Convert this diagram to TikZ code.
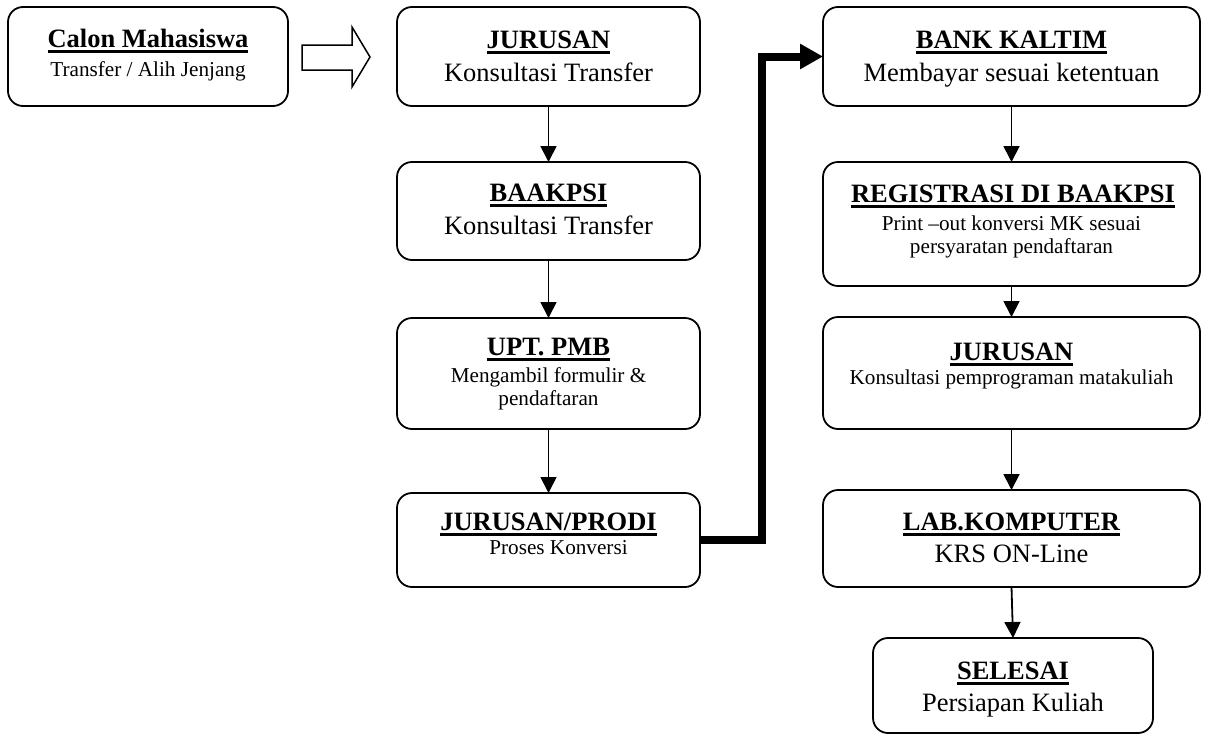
\documentclass[tikz,border=0pt]{standalone}
\usepackage{fontspec}
\setmainfont{Liberation Serif}
\usetikzlibrary{arrows.meta}

\newsavebox\titlebox
% bold heading with a rule drawn just under the baseline
\newcommand\heading[1]{\sbox\titlebox{\bfseries#1}\rlap{\rule[-5.6pt]{\wd\titlebox}{2.3pt}}\usebox\titlebox}
\newcommand\bigtext{\fontsize{26.5pt}{31pt}\selectfont}
\newcommand\smalltext{\fontsize{21.2pt}{24.5pt}\selectfont}

\begin{document}
\begin{tikzpicture}[x=1pt,y=-1pt,
  stepbox/.style={draw, line width=1.8pt, rounded corners=15pt, inner sep=0pt, outer sep=0pt},
  title/.style={anchor=base, inner sep=0pt, font=\bigtext},
  bigline/.style={anchor=base, inner sep=0pt, font=\bigtext},
  smallline/.style={anchor=base, inner sep=0pt, font=\smalltext},
  flow/.style={draw, line width=1.8pt, -{Triangle[length=16pt,width=16pt]}},
  bus/.style={draw, line width=8pt, line join=miter, -{Triangle[length=23pt,width=24pt]}}]

\useasboundingbox (0,0) rectangle (1207,734);

% ---- starting box ----
\node[stepbox, minimum width=280pt, minimum height=99pt] (calon) at (148,56.5) {};
\node[title] (calonT) at (148,47) {\heading{Calon Mahasiswa}};
\node[smallline] (calonS) at (148,76) {Transfer / Alih Jenjang};

% hollow block arrow into the first column
\draw[line width=1.5pt, line join=miter]
  (302,45) -- (352,45) -- (352,27) -- (370,57) -- (352,87) -- (352,70) -- (302,70) -- cycle;

% ---- first column ----
\node[stepbox, minimum width=303pt, minimum height=99pt] (jur1) at (548.5,56.5) {};
\node[title] (jur1T) at (548.5,48) {\heading{JURUSAN}};
\node[bigline] (jur1S) at (548.5,81) {Konsultasi Transfer};

\node[stepbox, minimum width=303pt, minimum height=98pt] (baak) at (548.5,211) {};
\node[title] (baakT) at (548.5,201) {\heading{BAAKPSI}};
\node[bigline] (baakS) at (548.5,234) {Konsultasi Transfer};

\node[stepbox, minimum width=303pt, minimum height=111pt] (upt) at (548.5,373.5) {};
\node[title] (uptT) at (548.5,355) {\heading{UPT. PMB}};
\node[smallline] (uptS1) at (548.5,382) {Mengambil formulir \&};
\node[smallline] (uptS2) at (548.5,405) {pendaftaran};

\node[stepbox, minimum width=303pt, minimum height=94pt] (prodi) at (548.5,540) {};
\node[title] (prodiT) at (548.5,530) {\heading{JURUSAN/PRODI}};
\node[smallline] (prodiS) at (558.5,554) {Proses Konversi};

% ---- second column ----
\node[stepbox, minimum width=377pt, minimum height=99pt] (bank) at (1011.5,56.5) {};
\node[title] (bankT) at (1011.5,48) {\heading{BANK KALTIM}};
\node[bigline] (bankS) at (1011.5,81) {Membayar sesuai ketentuan};

\node[stepbox, minimum width=377pt, minimum height=124pt] (reg) at (1011.5,224) {};
\node[title] (regT) at (1013,202) {\heading{REGISTRASI DI BAAKPSI}};
\node[smallline] (regS1) at (1011.5,230) {Print –out konversi MK sesuai};
\node[smallline] (regS2) at (1011.5,253) {persyaratan pendaftaran};

\node[stepbox, minimum width=377pt, minimum height=112pt] (jur2) at (1011.5,373) {};
\node[title] (jur2T) at (1011.5,360) {\heading{JURUSAN}};
\node[smallline] (jur2S) at (1011.5,384) {Konsultasi pemprograman matakuliah};

\node[stepbox, minimum width=377pt, minimum height=97pt] (lab) at (1011.5,538.5) {};
\node[title] (labT) at (1011.5,530) {\heading{LAB.KOMPUTER}};
\node[bigline] (labS) at (1011.5,562) {KRS ON-Line};

\node[stepbox, minimum width=280pt, minimum height=95pt] (done) at (1013,685.5) {};
\node[title] (doneT) at (1013,679) {\heading{SELESAI}};
\node[bigline] (doneS) at (1013,711) {Persiapan Kuliah};

% ---- connectors ----
\draw[flow] (jur1.south) -- (baak.north);
\draw[flow] (baak.south) -- (upt.north);
\draw[flow] (upt.south) -- (prodi.north);

\coordinate (bend) at (762,0);
\draw[bus] (prodi.east) -- (prodi.east -| bend) -- (bank.west -| bend) -- (bank.west);

\draw[flow] (bank.south) -- (reg.north);
\draw[flow] (reg.south) -- (jur2.north);
\draw[flow] (jur2.south) -- (lab.north);
\draw[flow] (lab.south) -- (done.north);
\end{tikzpicture}
\end{document}
